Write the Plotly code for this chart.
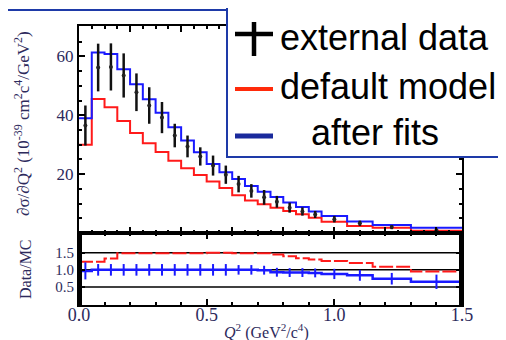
import plotly.graph_objects as go

# ---------------- data ----------------
bin_edges = [0.0, 0.05, 0.10, 0.15, 0.20, 0.25, 0.30, 0.35, 0.40, 0.45, 0.50, 0.55,
             0.60, 0.65, 0.70, 0.75, 0.80, 0.85, 0.90, 0.95, 1.05, 1.15, 1.30, 1.50]

ext_data = [36.5, 56.2, 56.4, 53.5, 47.8, 43.3, 39.2, 33.1, 29.4, 26.0, 22.9, 19.8,
            16.6, 14.3, 12.1, 10.6, 8.6, 7.3, 6.3, 4.7, 3.3, 2.0, 0.9]
ext_err = [6.8, 8.1, 8.0, 7.5, 6.4, 6.2, 5.3, 4.0, 3.7, 3.1, 3.4, 3.1,
           2.8, 2.3, 2.5, 2.0, 1.7, 1.4, 1.2, 1.1, 0.9, 0.7, 0.5]

default_model = [30.0, 45.5, 42.7, 38.0, 34.0, 30.5, 27.5, 24.5, 22.0, 19.7, 17.5, 15.3,
                 12.8, 11.0, 9.8, 8.6, 7.5, 6.4, 5.2, 3.8, 2.4, 1.8, 0.8]

after_fits = [39.0, 61.3, 60.8, 55.6, 50.5, 45.4, 40.8, 35.9, 31.4, 27.4, 23.4, 20.6,
              18.3, 16.0, 14.0, 12.2, 10.4, 8.8, 7.3, 5.8, 3.9, 2.7, 1.8]

ratio_default = [1.24, 1.24, 1.33, 1.49, 1.49, 1.49, 1.49, 1.49, 1.49, 1.49, 1.50, 1.50,
                 1.49, 1.49, 1.49, 1.45, 1.40, 1.34, 1.30, 1.26, 1.20, 1.09, 0.95]
ratio_fits = [0.97, 1.0, 1.0, 1.0, 1.0, 1.0, 1.0, 1.0, 1.0, 1.0, 1.0, 1.0,
              1.0, 1.0, 0.99, 0.93, 0.92, 0.92, 0.91, 0.88, 0.84, 0.74, 0.65]
ratio_fits_err = [0.25, 0.17, 0.17, 0.17, 0.17, 0.17, 0.17, 0.17, 0.17, 0.17, 0.17, 0.17,
                  0.14, 0.14, 0.13, 0.13, 0.13, 0.13, 0.13, 0.15, 0.16, 0.17, 0.21]

ref_lines = [0.5, 1.0, 1.5]

x_tick_labels = ["0.0", "0.5", "1.0", "1.5"]
x_tick_vals = [0.0, 0.5, 1.0, 1.5]
y_tick_vals = [20, 40, 60]
r_tick_vals = [0.5, 1.0, 1.5]
r_tick_labels = ["0.5", "1.0", "1.5"]

legend_labels = ["external data", "default model", "after fits"]

# ---------------- helpers ----------------
centers = [(a + b) / 2 for a, b in zip(bin_edges[:-1], bin_edges[1:])]


def step_y(vals):
    return list(vals) + [vals[-1]]


# page has an 8px body margin; figure is placed at (8, 8)
OFF = 8
PAGE_W, PAGE_H = 506, 340
L, R, T, B = 79, 462, 26, 305          # plot area in page pixels
W, H = R - L, B - T


def px(x):
    return (x - L) / W


def py(y):
    return (B - y) / H


RED = "#ff1a1a"
BLUE = "#1a1aff"
TXT = "#2d2a5c"
FRAME = "#1e3aa8"

fig = go.Figure()

# upper panel
fig.add_trace(go.Scatter(x=bin_edges, y=step_y(default_model), mode="lines",
                         line=dict(color=RED, width=2, shape="hv"),
                         xaxis="x", yaxis="y", showlegend=False))
fig.add_trace(go.Scatter(x=bin_edges, y=step_y(after_fits), mode="lines",
                         line=dict(color=BLUE, width=2, shape="hv"),
                         xaxis="x", yaxis="y", showlegend=False))
fig.add_trace(go.Scatter(x=centers, y=ext_data, mode="markers",
                         marker=dict(color="#222", size=4),
                         error_y=dict(type="data", array=ext_err, color="#111",
                                      thickness=2.5, width=0),
                         xaxis="x", yaxis="y", showlegend=False))

# lower panel
for v in ref_lines:
    fig.add_trace(go.Scatter(x=[bin_edges[0], bin_edges[-1]], y=[v, v], mode="lines",
                             line=dict(color="black", width=1.5),
                             xaxis="x2", yaxis="y2", showlegend=False))
fig.add_trace(go.Scatter(x=bin_edges, y=step_y(ratio_default), mode="lines",
                         line=dict(color=RED, width=2, shape="hv", dash="14px,3px"),
                         xaxis="x2", yaxis="y2", showlegend=False))
fig.add_trace(go.Scatter(x=bin_edges, y=step_y(ratio_fits), mode="lines",
                         line=dict(color=BLUE, width=2.5, shape="hv"),
                         xaxis="x2", yaxis="y2", showlegend=False))
fig.add_trace(go.Scatter(x=centers, y=ratio_fits, mode="markers",
                         marker=dict(color=BLUE, size=1),
                         error_y=dict(type="data", array=ratio_fits_err, color=BLUE,
                                      thickness=2, width=0),
                         xaxis="x2", yaxis="y2", showlegend=False))

split = py(233)
tickfont = dict(family="Liberation Serif", size=18, color=TXT)

common_x = dict(range=[0, 1.5], showline=True, linecolor="black", linewidth=2,
                mirror="ticks", ticks="inside", ticklen=6, tickwidth=1.5,
                tickcolor="black", showgrid=False, zeroline=False)

fig.update_layout(
    width=PAGE_W - OFF, height=PAGE_H - OFF,
    margin=dict(l=L - OFF, r=PAGE_W - R, t=T - OFF, b=PAGE_H - B),
    paper_bgcolor="white", plot_bgcolor="white",
    xaxis=dict(domain=[0, 1], anchor="y", showticklabels=False,
               tick0=0, dtick=0.2,
               minor=dict(dtick=0.05, ticks="inside", ticklen=3, tickcolor="black"),
               **common_x),
    yaxis=dict(domain=[split, 1], anchor="x", range=[0, 70.3],
               tickmode="array", tickvals=y_tick_vals,
               minor=dict(tick0=0, dtick=5, ticks="inside", ticklen=3, tickcolor="black"),
               showline=True, linecolor="black", linewidth=2, mirror="ticks",
               ticks="inside", ticklen=6, tickwidth=1.5, tickcolor="black",
               showgrid=False, zeroline=False,
               tickfont=dict(family="Liberation Serif", size=17, color=TXT)),
    xaxis2=dict(domain=[0, 1], anchor="y2", tickmode="array",
                tickvals=x_tick_vals, ticktext=x_tick_labels, tickfont=tickfont,
                ticklabelstandoff=-8,
                minor=dict(tick0=0, dtick=0.1, ticks="inside", ticklen=3, tickcolor="black"),
                **common_x),
    yaxis2=dict(domain=[0, split], anchor="x2", range=[-0.03, 2.08],
                tickmode="array", tickvals=r_tick_vals, ticktext=r_tick_labels,
                minor=dict(tick0=0, dtick=0.05, ticks="inside", ticklen=3, tickcolor="black"),
                showline=True, linecolor="black", linewidth=2, mirror="ticks",
                ticks="inside", ticklen=6, tickwidth=1.5, tickcolor="black",
                showgrid=False, zeroline=False,
                tickfont=dict(family="Liberation Serif", size=15, color=TXT)),
)

# axis titles
fig.add_annotation(text="∂σ/∂Q<sup>2</sup> (10<sup>-39</sup> cm<sup>2</sup>c<sup>4</sup>/GeV<sup>2</sup>)",
                   x=px(22), y=py(124), xref="paper", yref="paper", textangle=-90,
                   xanchor="center", yanchor="middle",
                   showarrow=False, font=dict(family="Liberation Serif", size=17, color=TXT))
fig.add_annotation(text="Data/MC", x=px(25), y=py(269), xref="paper", yref="paper",
                   textangle=-90, xanchor="center", yanchor="middle", showarrow=False,
                   font=dict(family="Liberation Serif", size=16, color=TXT))
fig.add_annotation(text="<i>Q</i><sup>2</sup> (GeV<sup>2</sup>/c<sup>4</sup>)",
                   x=px(266), y=py(331), xref="paper", yref="paper", showarrow=False,
                   xanchor="center", yanchor="middle",
                   font=dict(family="Liberation Serif", size=16, color=TXT))

# legend box and header line
fig.add_shape(type="line", xref="paper", yref="paper", x0=px(0), x1=px(227),
              y0=py(10), y1=py(10), line=dict(color=FRAME, width=2), layer="above")
fig.add_shape(type="rect", xref="paper", yref="paper", x0=px(227), x1=px(520),
              y0=py(157), y1=py(7), line=dict(color=FRAME, width=2),
              fillcolor="white", layer="above")
# legend glyphs
fig.add_shape(type="line", xref="paper", yref="paper", x0=px(235), x1=px(273),
              y0=py(34), y1=py(34), line=dict(color="black", width=4.5), layer="above")
fig.add_shape(type="line", xref="paper", yref="paper", x0=px(254), x1=px(254),
              y0=py(22), y1=py(56), line=dict(color="black", width=4.5), layer="above")
fig.add_shape(type="line", xref="paper", yref="paper", x0=px(235), x1=px(273),
              y0=py(89), y1=py(89), line=dict(color="#ff2a0a", width=4), layer="above")
fig.add_shape(type="line", xref="paper", yref="paper", x0=px(235), x1=px(273),
              y0=py(136), y1=py(136), line=dict(color="#1a2a9c", width=5), layer="above")

legend_pos = [(278, 37), (278, 87), (309, 133)]
for lab, (lx, ly) in zip(legend_labels, legend_pos):
    fig.add_annotation(text=lab, x=px(lx), y=py(ly), xref="paper", yref="paper",
                       xanchor="left", yanchor="middle", showarrow=False,
                       font=dict(family="Liberation Sans", size=36, color="black"))

fig.write_html("out.html")
